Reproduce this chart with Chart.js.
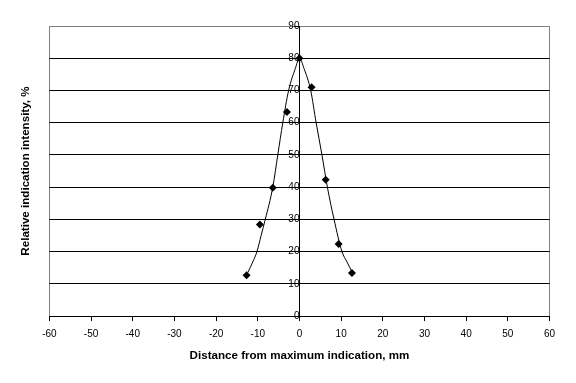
<!DOCTYPE html>
<html>
<head>
<meta charset="utf-8">
<script src="https://cdn.jsdelivr.net/npm/chart.js@4/dist/chart.umd.min.js"></script>
<style>
    html, body { margin: 0; padding: 0; background: #fff; }
    #wrap { width: 576px; height: 383px; }
</style>
</head>
<body>
<div id="wrap"><canvas id="intensityChart" width="576" height="383"></canvas></div>
<script>
// measured points (mm, %)
const pointX = [-12.7, -9.5, -6.4, -3.0, 0, 2.9, 6.3, 9.4, 12.6];
const pointY = [12.7, 28.4, 39.8, 63.3, 80, 71.0, 42.3, 22.4, 13.4];

// smoothed curve
const curveX = [-12.4, -11.2, -10.2, -9.2, -8.2, -6.4, -5.2, -4.0, -2.6, -1.0, 0, 1.1, 2.7, 4.0, 5.4, 6.7, 8.3, 10.2, 11.4, 12.7];
const curveY = [13.5, 16.8, 20, 25, 30, 40, 50, 60, 70, 76.8, 80, 76.8, 70, 60, 50, 40, 30, 20, 16.8, 13.5];

const xTicks = [-60, -50, -40, -30, -20, -10, 0, 10, 20, 30, 40, 50, 60];
const yTicks = [0, 10, 20, 30, 40, 50, 60, 70, 80, 90];

const FONT = '"Liberation Sans", Arial, sans-serif';
const GRAY = '#808080';

const toXY = (xs, ys) => xs.map((x, i) => ({ x: x, y: ys[i] }));

const ctx = document.getElementById('intensityChart').getContext('2d');
const chart = new Chart(ctx, {
    type: 'scatter',
    data: {
        datasets: [
            {
                label: 'Measured',
                data: toXY(pointX, pointY),
                pointStyle: 'rectRot',
                pointRadius: 4,
                backgroundColor: '#000',
                borderColor: '#000',
                borderWidth: 0
            },
            {
                label: 'Curve',
                data: toXY(curveX, curveY),
                showLine: true,
                pointRadius: 0,
                borderColor: '#000',
                borderWidth: 1,
                cubicInterpolationMode: 'monotone'
            }
        ]
    },
    options: {
        responsive: false,
        animation: false,
        devicePixelRatio: 1,
        layout: {
            padding: { left: 15, right: 26.5, top: 26, bottom: 20 }
        },
        plugins: {
            legend: { display: false },
            tooltip: { enabled: false }
        },
        scales: {
            x: {
                type: 'linear',
                position: 'bottom',
                min: -60,
                max: 60,
                afterBuildTicks: (axis) => { axis.ticks = xTicks.map(v => ({ value: v })); },
                ticks: {
                    color: '#000',
                    font: { family: FONT, size: 10 },
                    padding: 7
                },
                grid: {
                    color: (c) => (c.tick && Math.abs(c.tick.value) === 60) ? GRAY : 'rgba(0,0,0,0)',
                    tickColor: '#000',
                    tickLength: 5,
                    lineWidth: 1
                },
                border: { color: '#000', width: 1 },
                title: {
                    display: true,
                    text: 'Distance from maximum indication, mm',
                    color: '#000',
                    font: { family: FONT, size: 11.6, weight: 'bold' },
                    padding: { top: 2, bottom: 0 }
                }
            },
            y: {
                type: 'linear',
                position: { x: 0 },
                min: 0,
                max: 90,
                afterBuildTicks: (axis) => { axis.ticks = yTicks.map(v => ({ value: v })); },
                ticks: {
                    color: '#000',
                    font: { family: FONT, size: 10 },
                    padding: 3
                },
                grid: {
                    color: (c) => (c.tick && c.tick.value === 90) ? GRAY : '#000',
                    tickColor: '#000',
                    tickLength: 5,
                    lineWidth: 1
                },
                border: { color: '#000', width: 1 }
            },
            yTitle: {
                type: 'linear',
                position: 'left',
                min: 0,
                max: 90,
                ticks: { display: false },
                grid: { display: false },
                border: { display: false },
                title: {
                    display: true,
                    text: 'Relative indication intensity, %',
                    color: '#000',
                    font: { family: FONT, size: 11.6, weight: 'bold' },
                    padding: { top: 4, bottom: 8.5 }
                }
            }
        }
    }
});
</script>
</body>
</html>
